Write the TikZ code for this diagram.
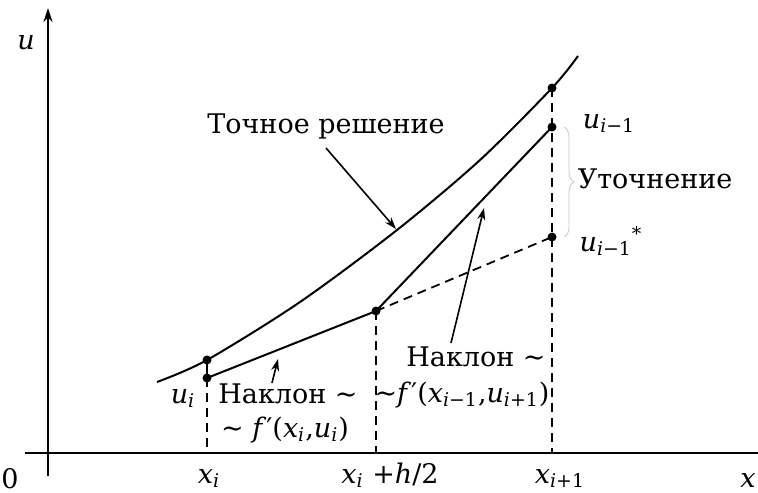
\documentclass[tikz,border=0pt]{standalone}
\usepackage{fontspec}
\setmainfont{DejaVu Serif}
\usetikzlibrary{arrows.meta,decorations.pathreplacing}
\newcommand{\gr}{\fontsize{13.5}{16}\selectfont}
\newcommand{\mi}[1]{\textit{#1}}
\newcommand{\ix}[1]{\textsubscript{#1}}
\tikzset{achse/.style={line width=1pt},
  kurve/.style={line width=1pt},
  lot/.style={line width=0.9pt,dash pattern=on 4.5pt off 3pt},
  punkt/.style={circle,fill,inner sep=0,minimum size=4.5pt},
  zeiger/.style={line width=0.8pt,-{Stealth[length=6pt,width=4pt]}},
  beschr/.style={inner sep=0,anchor=base,font=\gr}}

\begin{document}
\begin{tikzpicture}[x=0.5pt,y=-0.5pt]
\useasboundingbox (0,0) rectangle (758,492);
% Achsen u und x
\coordinate (uunten) at (48,476);
\coordinate (uoben) at (48,8);
\coordinate (xlinks) at (25,453);
\coordinate (xrechts) at (758,453);
\draw[achse,-{Stealth[length=7pt,width=4.5pt]}] (uunten) -- (uoben);
\draw[achse] (xlinks) -- (xrechts);
% Punkte; Lote auf die x-Achse
\node[punkt] (ex) at (207,360) {};
\node[punkt] (ui) at (207,378) {};
\node[punkt] (mid) at (376,311) {};
\node[punkt] (ex1) at (552,88) {};
\node[punkt] (un) at (552,127) {};
\node[punkt] (us) at (552,237) {};
\coordinate (fi) at (207,453);
\coordinate (fm) at (376,453);
\coordinate (fn) at (552,453);
\draw[kurve] plot[smooth] coordinates {(157,382) (207,360) (300,302) (397,230) (480,160) (552,88) (578,56)};
\draw[kurve] (ex.center) -- (ui.center);
\draw[kurve] (ui.center) -- (mid.center) -- (un.center);
\draw[lot] (mid.center) -- (us.center);
\draw[lot] (ui.center) -- (fi) (mid.center) -- (fm) (ex1.center) -- (fn);
\draw[gray!45,line width=0.4pt,decorate,decoration={brace,amplitude=5pt}] (564,127) -- (564,237);
% Beschriftungen
\node[beschr] (lu) at (26,50) {\mi{u}};
\node[beschr] (l0) at (10,488) {0};
\node[beschr] (lx) at (748,487) {\mi{x}};
\node[beschr] (lxi) at (209,483) {\mi{x}\ix{\mi{i}}};
\node[beschr] (lxm) at (390,483) {\mi{x}\ix{\mi{i}} +\mi{h}/2};
\node[beschr] (lxn) at (560,483) {\mi{x}\ix{\mi{i}+1}};
\node[beschr] (lui) at (183,403) {\mi{u}\ix{\mi{i}}};
\node[beschr] (lun) at (609,128) {\mi{u}\ix{\mi{i}−1}};
\node[beschr] (lut) at (655,188) {Уточнение};
\node[beschr] (lus) at (611,251) {\mi{u}\ix{\mi{i}−1}\textsuperscript{*}};
\node[beschr] (lexakt) at (326,133) {Точное решение};
\node[beschr] (lnak1) at (288,403) {Наклон \textasciitilde};
\node[beschr] (lf1) at (285,437) {\textasciitilde\ \mi{f}′(\mi{x}\ix{\mi{i}},\mi{u}\ix{\mi{i}})};
\node[beschr] (lnak2) at (476,366) {Наклон \textasciitilde};
\node[beschr] (lf2) at (462,402) {\textasciitilde\mi{f}′(\mi{x}\ix{\mi{i}−1},\mi{u}\ix{\mi{i}+1})};
% Zeiger
\coordinate (z1a) at (326,148);
\coordinate (z1b) at (396,229);
\coordinate (z2a) at (451,343);
\coordinate (z2b) at (484,208);
\coordinate (z3a) at (272,383);
\coordinate (z3b) at (278,359);
\draw[zeiger] (z1a) -- (z1b);
\draw[zeiger] (z2a) -- (z2b);
\draw[zeiger] (z3a) -- (z3b);
\end{tikzpicture}
\end{document}
